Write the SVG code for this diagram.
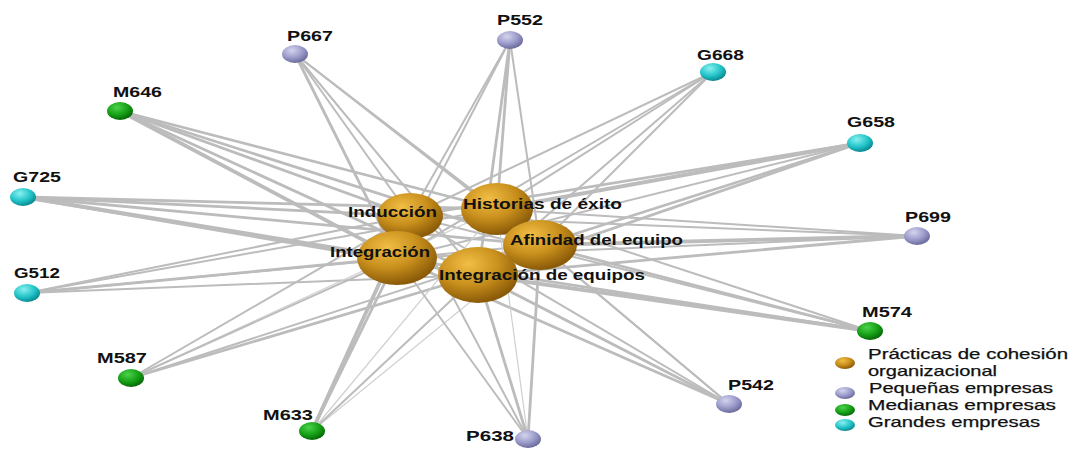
<svg xmlns="http://www.w3.org/2000/svg" width="1074" height="452" viewBox="0 0 1074 452">
<defs>
<radialGradient id="gOr" cx="38%" cy="30%" r="70%"><stop offset="0" stop-color="#f2be45"/><stop offset="0.55" stop-color="#c88f1c"/><stop offset="1" stop-color="#8a5a08"/></radialGradient>
<radialGradient id="gPu" cx="38%" cy="30%" r="70%"><stop offset="0" stop-color="#d4d4ee"/><stop offset="0.6" stop-color="#9a9aca"/><stop offset="1" stop-color="#6c6c9c"/></radialGradient>
<radialGradient id="gGr" cx="38%" cy="30%" r="70%"><stop offset="0" stop-color="#4cd24c"/><stop offset="0.6" stop-color="#15a015"/><stop offset="1" stop-color="#086808"/></radialGradient>
<radialGradient id="gCy" cx="38%" cy="30%" r="70%"><stop offset="0" stop-color="#8af0f0"/><stop offset="0.6" stop-color="#22c4c8"/><stop offset="1" stop-color="#0a8a92"/></radialGradient>
<style>
.e{stroke:#bcbcbc;fill:none;stroke-linecap:round}
.w1{stroke-width:1.2;stroke:#cfcfcf}.w2{stroke-width:2}.w3{stroke-width:2.8}.w4{stroke-width:3.8}
.lab{font-family:"Liberation Sans",Arial,sans-serif;font-weight:bold;font-size:15px;fill:#111}
.leg{font-family:"Liberation Sans",Arial,sans-serif;font-size:14.5px;fill:#111;stroke:#111;stroke-width:0.25}
.or{fill:url(#gOr)}.pu{fill:url(#gPu)}.gr{fill:url(#gGr)}.cy{fill:url(#gCy)}
</style>
</defs>
<rect width="1074" height="452" fill="#ffffff"/>
<g id="connectors">
<!-- P667 (295,54) -->
<line class="e w2" x1="295" y1="54" x2="410" y2="216"/><line class="e w2" x1="295" y1="54" x2="497" y2="209"/><line class="e w2" x1="295" y1="54" x2="540" y2="245"/><line class="e w3" x1="295" y1="54" x2="397" y2="258"/><line class="e w2" x1="295" y1="54" x2="478" y2="275"/>
<!-- P552 (510,40) -->
<line class="e w2" x1="510" y1="40" x2="410" y2="216"/><line class="e w3" x1="510" y1="40" x2="497" y2="209"/><line class="e w2" x1="510" y1="40" x2="540" y2="245"/><line class="e w2" x1="510" y1="40" x2="397" y2="258"/><line class="e w3" x1="510" y1="40" x2="478" y2="275"/>
<!-- G668 (713,72) -->
<line class="e w2" x1="713" y1="72" x2="410" y2="216"/><line class="e w2" x1="713" y1="72" x2="497" y2="209"/><line class="e w2" x1="713" y1="72" x2="540" y2="245"/><line class="e w2" x1="713" y1="72" x2="397" y2="258"/><line class="e w2" x1="713" y1="72" x2="478" y2="275"/>
<!-- M646 (120,111) -->
<line class="e w3" x1="120" y1="111" x2="410" y2="216"/><line class="e w3" x1="120" y1="111" x2="497" y2="209"/><line class="e w3" x1="120" y1="111" x2="540" y2="245"/><line class="e w4" x1="120" y1="111" x2="397" y2="258"/><line class="e w3" x1="120" y1="111" x2="478" y2="275"/>
<!-- G658 (860,143) -->
<line class="e w3" x1="860" y1="143" x2="410" y2="216"/><line class="e w4" x1="860" y1="143" x2="497" y2="209"/><line class="e w3" x1="860" y1="143" x2="540" y2="245"/><line class="e w2" x1="860" y1="143" x2="397" y2="258"/><line class="e w3" x1="860" y1="143" x2="478" y2="275"/>
<!-- G725 (23,197) -->
<line class="e w3" x1="23" y1="197" x2="410" y2="216"/><line class="e w3" x1="23" y1="197" x2="497" y2="209"/><line class="e w3" x1="23" y1="197" x2="540" y2="245"/><line class="e w4" x1="23" y1="197" x2="397" y2="258"/><line class="e w3" x1="23" y1="197" x2="478" y2="275"/>
<!-- P699 (917,236) -->
<line class="e w2" x1="917" y1="236" x2="410" y2="216"/><line class="e w2" x1="917" y1="236" x2="497" y2="209"/><line class="e w4" x1="917" y1="236" x2="540" y2="245"/><line class="e w2" x1="917" y1="236" x2="397" y2="258"/><line class="e w3" x1="917" y1="236" x2="478" y2="275"/>
<!-- G512 (27,293) -->
<line class="e w2" x1="27" y1="293" x2="410" y2="216"/><line class="e w2" x1="27" y1="293" x2="497" y2="209"/><line class="e w2" x1="27" y1="293" x2="540" y2="245"/><line class="e w3" x1="27" y1="293" x2="397" y2="258"/><line class="e w2" x1="27" y1="293" x2="478" y2="275"/>
<!-- M574 (870,331) -->
<line class="e w2" x1="870" y1="331" x2="410" y2="216"/><line class="e w2" x1="870" y1="331" x2="497" y2="209"/><line class="e w3" x1="870" y1="331" x2="540" y2="245"/><line class="e w3" x1="870" y1="331" x2="397" y2="258"/><line class="e w4" x1="870" y1="331" x2="478" y2="275"/>
<!-- M587 (131,378) -->
<line class="e w2" x1="131" y1="378" x2="410" y2="216"/><line class="e w1" x1="131" y1="378" x2="497" y2="209"/><line class="e w2" x1="131" y1="378" x2="540" y2="245"/><line class="e w2" x1="131" y1="378" x2="397" y2="258"/><line class="e w3" x1="131" y1="378" x2="478" y2="275"/>
<!-- P542 (729,404) -->
<line class="e w2" x1="729" y1="404" x2="410" y2="216"/><line class="e w2" x1="729" y1="404" x2="497" y2="209"/><line class="e w2" x1="729" y1="404" x2="540" y2="245"/><line class="e w3" x1="729" y1="404" x2="397" y2="258"/><line class="e w3" x1="729" y1="404" x2="478" y2="275"/>
<!-- M633 (312,431) -->
<line class="e w4" x1="312" y1="431" x2="410" y2="216"/><line class="e w1" x1="312" y1="431" x2="497" y2="209"/><line class="e w1" x1="312" y1="431" x2="540" y2="245"/><line class="e w3" x1="312" y1="431" x2="397" y2="258"/><line class="e w2" x1="312" y1="431" x2="478" y2="275"/>
<!-- P638 (528,439) -->
<line class="e w2" x1="528" y1="439" x2="410" y2="216"/><line class="e w1" x1="528" y1="439" x2="497" y2="209"/><line class="e w3" x1="528" y1="439" x2="540" y2="245"/><line class="e w2" x1="528" y1="439" x2="397" y2="258"/><line class="e w3" x1="528" y1="439" x2="478" y2="275"/>
</g>
<g id="P667"><ellipse class="pu" cx="295" cy="54" rx="13" ry="9"/><text class="lab" x="287" y="41" textLength="46" lengthAdjust="spacingAndGlyphs">P667</text></g>
<g id="P552"><ellipse class="pu" cx="510" cy="40" rx="13" ry="9"/><text class="lab" x="497" y="25" textLength="46" lengthAdjust="spacingAndGlyphs">P552</text></g>
<g id="G668"><ellipse class="cy" cx="713" cy="72" rx="13" ry="9"/><text class="lab" x="697" y="60" textLength="47" lengthAdjust="spacingAndGlyphs">G668</text></g>
<g id="M646"><ellipse class="gr" cx="120" cy="111" rx="13" ry="9"/><text class="lab" x="113" y="97" textLength="49" lengthAdjust="spacingAndGlyphs">M646</text></g>
<g id="G658"><ellipse class="cy" cx="860" cy="143" rx="13" ry="9"/><text class="lab" x="847" y="127" textLength="48" lengthAdjust="spacingAndGlyphs">G658</text></g>
<g id="G725"><ellipse class="cy" cx="23" cy="197" rx="13" ry="9"/><text class="lab" x="13" y="182" textLength="48" lengthAdjust="spacingAndGlyphs">G725</text></g>
<g id="P699"><ellipse class="pu" cx="917" cy="236" rx="13" ry="9"/><text class="lab" x="905" y="222" textLength="46" lengthAdjust="spacingAndGlyphs">P699</text></g>
<g id="G512"><ellipse class="cy" cx="27" cy="293" rx="13" ry="9"/><text class="lab" x="14" y="278" textLength="46" lengthAdjust="spacingAndGlyphs">G512</text></g>
<g id="M574"><ellipse class="gr" cx="870" cy="331" rx="13" ry="9"/><text class="lab" x="862" y="317" textLength="50" lengthAdjust="spacingAndGlyphs">M574</text></g>
<g id="M587"><ellipse class="gr" cx="131" cy="378" rx="13" ry="9"/><text class="lab" x="97" y="363" textLength="50" lengthAdjust="spacingAndGlyphs">M587</text></g>
<g id="P542"><ellipse class="pu" cx="729" cy="404" rx="13" ry="9"/><text class="lab" x="728" y="390" textLength="46" lengthAdjust="spacingAndGlyphs">P542</text></g>
<g id="M633"><ellipse class="gr" cx="312" cy="431" rx="13" ry="9"/><text class="lab" x="263" y="420" textLength="50" lengthAdjust="spacingAndGlyphs">M633</text></g>
<g id="P638"><ellipse class="pu" cx="528" cy="439" rx="13" ry="9"/><text class="lab" x="466" y="441" textLength="48" lengthAdjust="spacingAndGlyphs">P638</text></g>
<g id="Induccion"><ellipse class="or" cx="410" cy="216" rx="33" ry="23"/><text class="lab" x="348" y="217" textLength="89" lengthAdjust="spacingAndGlyphs">Inducción</text></g>
<g id="Historias"><ellipse class="or" cx="497" cy="209" rx="36" ry="26"/><text class="lab" x="463" y="209" textLength="159" lengthAdjust="spacingAndGlyphs">Historias de éxito</text></g>
<g id="Afinidad"><ellipse class="or" cx="540" cy="245" rx="37" ry="25"/><text class="lab" x="510" y="245" textLength="173" lengthAdjust="spacingAndGlyphs">Afinidad del equipo</text></g>
<g id="Integracion"><ellipse class="or" cx="397" cy="258" rx="40" ry="27"/><text class="lab" x="330" y="257" textLength="100" lengthAdjust="spacingAndGlyphs">Integración</text></g>
<g id="IntegracionEquipos"><ellipse class="or" cx="478" cy="275" rx="40" ry="28"/><text class="lab" x="439" y="280" textLength="206" lengthAdjust="spacingAndGlyphs">Integración de equipos</text></g>
<g id="legend">
<ellipse class="or" cx="845" cy="363" rx="10" ry="6"/>
<ellipse class="pu" cx="845" cy="393" rx="10" ry="6"/>
<ellipse class="gr" cx="845" cy="410" rx="10" ry="6"/>
<ellipse class="cy" cx="845" cy="425" rx="10" ry="6"/>
<text class="leg" x="868" y="359" textLength="200" lengthAdjust="spacingAndGlyphs">Prácticas de cohesión</text>
<text class="leg" x="868" y="376" textLength="129" lengthAdjust="spacingAndGlyphs">organizacional</text>
<text class="leg" x="869" y="393" textLength="184" lengthAdjust="spacingAndGlyphs">Pequeñas empresas</text>
<text class="leg" x="868" y="410" textLength="188" lengthAdjust="spacingAndGlyphs">Medianas empresas</text>
<text class="leg" x="868" y="427" textLength="172" lengthAdjust="spacingAndGlyphs">Grandes empresas</text>
</g>
</svg>
